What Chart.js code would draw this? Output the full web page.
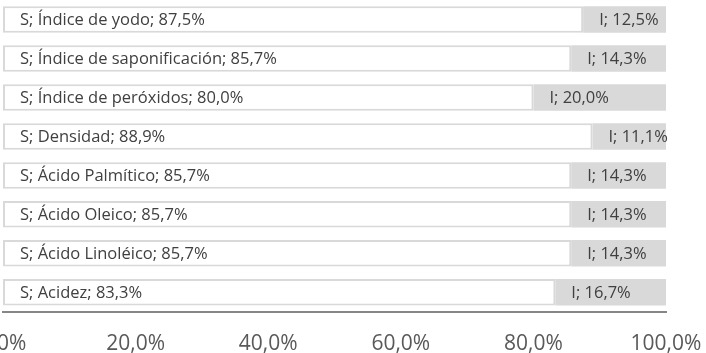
<!DOCTYPE html>
<html>
<head>
<meta charset="utf-8">
<script src="https://cdn.jsdelivr.net/npm/chart.js@4"></script>
<style>
  html, body { margin: 0; padding: 0; background: #fff; overflow: hidden; }
  #wrap { position: relative; width: 706px; height: 353px; }
</style>
</head>
<body>
<div id="wrap"><canvas id="chart"></canvas></div>
<script>
const categories = [
  'Índice de yodo',
  'Índice de saponificación',
  'Índice de peróxidos',
  'Densidad',
  'Ácido Palmítico',
  'Ácido Oleico',
  'Ácido Linoléico',
  'Acidez'
];
const sValues = [87.5, 85.7, 80.0, 88.9, 85.7, 85.7, 85.7, 83.3];
const iValues = [12.5, 14.3, 20.0, 11.1, 14.3, 14.3, 14.3, 16.7];
const xTicks = [0, 20, 40, 60, 80, 100];

const fmt = v => v.toFixed(1).replace('.', ',') + '%';

// labels inside the bars, "S; name; 87,5%" and "I; 12,5%"
const barLabels = {
  id: 'barLabels',
  afterDatasetsDraw(chart) {
    const ctx = chart.ctx;
    ctx.save();
    ctx.font = '16.5px "Open Sans"';
    ctx.fillStyle = '#404040';
    ctx.textAlign = 'left';
    ctx.textBaseline = 'middle';
    chart.data.datasets.forEach((ds, di) => {
      const meta = chart.getDatasetMeta(di);
      meta.data.forEach((bar, j) => {
        const left = Math.min(bar.base, bar.x);
        const txt = di === 0
          ? 'S; ' + categories[j] + '; ' + fmt(ds.data[j])
          : 'I; ' + fmt(ds.data[j]);
        ctx.fillText(txt, left + (di === 0 ? 17 : 16), bar.y + 1);
      });
    });
    ctx.restore();
  }
};

new Chart(document.getElementById('chart'), {
  type: 'bar',
  data: {
    labels: categories,
    datasets: [
      {
        label: 'S',
        data: sValues,
        backgroundColor: '#ffffff',
        borderColor: '#d9d9d9',
        borderWidth: 2,
        borderSkipped: false,
        barPercentage: 0.68,
        categoryPercentage: 1
      },
      {
        label: 'I',
        data: iValues,
        backgroundColor: '#d9d9d9',
        borderWidth: 0,
        barPercentage: 0.68,
        categoryPercentage: 1
      }
    ]
  },
  options: {
    indexAxis: 'y',
    responsive: true,
    maintainAspectRatio: false,
    animation: false,
    layout: { padding: { left: 3, right: 40, top: 0, bottom: -24 } },
    plugins: {
      legend: { display: false },
      tooltip: { enabled: false }
    },
    scales: {
      x: {
        stacked: true,
        min: 0,
        max: 100,
        afterBuildTicks: axis => { axis.ticks = xTicks.map(v => ({ value: v })); },
        afterFit: axis => { axis.paddingLeft = 0; axis.paddingRight = 0; },
        grid: { display: false, drawTicks: false },
        border: { display: true, color: '#868686', width: 2 },
        ticks: {
          padding: 20,
          maxRotation: 0,
          autoSkip: false,
          color: '#595959',
          font: { family: '"Open Sans"', size: 21 },
          callback: v => fmt(v)
        }
      },
      y: {
        stacked: true,
        display: false
      }
    }
  },
  plugins: [barLabels]
});
</script>
</body>
</html>
